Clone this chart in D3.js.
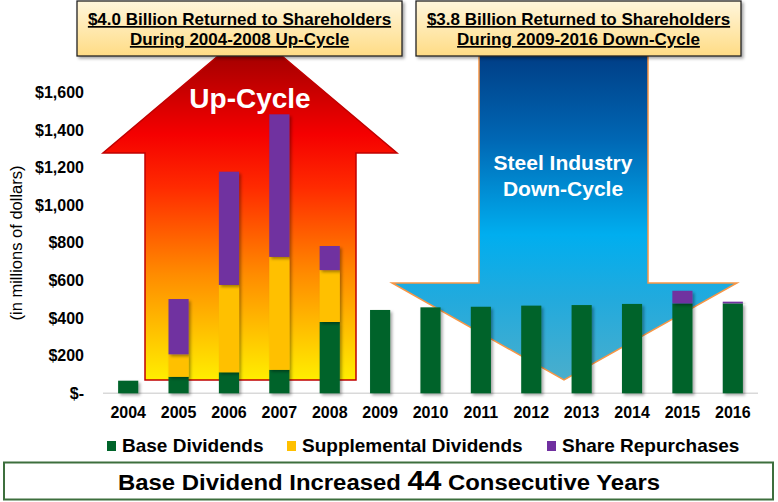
<!DOCTYPE html>
<html>
<head>
<meta charset="utf-8">
<script src="https://cdn.jsdelivr.net/npm/d3@7"></script>
<style>
  body { margin: 0; background: #fff; }
  text { font-family: "Liberation Sans", Arial, sans-serif; }
</style>
</head>
<body>
<div id="chart"></div>
<script>
// Data (in millions of dollars)
var years = ["2004", "2005", "2006", "2007", "2008", "2009", "2010", "2011", "2012", "2013", "2014", "2015", "2016"];
var baseDividends = [67, 88, 112, 125, 379, 443, 457, 460, 466, 469, 475, 478, 478];
var supplementalDividends = [0, 119, 464, 600, 276, 0, 0, 0, 0, 0, 0, 0, 0];
var shareRepurchases = [0, 294, 602, 758, 128, 0, 0, 0, 0, 0, 0, 67, 9];
var seriesNames = ["Base Dividends", "Supplemental Dividends", "Share Repurchases"];
var seriesColors = ["#00642a", "#ffc000", "#7030a0"];
var yTicks = [0, 200, 400, 600, 800, 1000, 1200, 1400, 1600];
var headerLeft = ["$4.0 Billion Returned to Shareholders", "During 2004-2008 Up-Cycle"];
var headerRight = ["$3.8 Billion Returned to Shareholders", "During 2009-2016 Down-Cycle"];

var width = 778, height = 502;

var svg = d3.select("#chart")
    .append("svg")
    .attr("width", width)
    .attr("height", height);

var defs = svg.append("defs");

// gradients
var redGrad = defs.append("linearGradient")
    .attr("id", "redGrad").attr("gradientUnits", "userSpaceOnUse")
    .attr("x1", 0).attr("y1", 29).attr("x2", 0).attr("y2", 380);
[[0, "#8b0000"], [0.3, "#f50000"], [0.45, "#ff2a00"], [0.7, "#ff8c00"], [0.87, "#ffc400"], [1, "#ffee00"]]
    .forEach(function (s) { redGrad.append("stop").attr("offset", s[0]).attr("stop-color", s[1]); });

var blueGrad = defs.append("linearGradient")
    .attr("id", "blueGrad").attr("gradientUnits", "userSpaceOnUse")
    .attr("x1", 0).attr("y1", 57).attr("x2", 0).attr("y2", 380);
[[0, "#003f87"], [0.25, "#0066b3"], [0.55, "#00aeef"], [0.75, "#22aadd"], [1, "#4aaecc"]]
    .forEach(function (s) { blueGrad.append("stop").attr("offset", s[0]).attr("stop-color", s[1]); });

var boxGrad = defs.append("linearGradient")
    .attr("id", "boxGrad").attr("x1", 0).attr("y1", 0).attr("x2", 0).attr("y2", 1);
boxGrad.append("stop").attr("offset", 0).attr("stop-color", "#fff6dc");
boxGrad.append("stop").attr("offset", 1).attr("stop-color", "#ffdc85");

var shadow = defs.append("filter").attr("id", "shadow")
    .attr("x", "-20%").attr("y", "-20%").attr("width", "150%").attr("height", "150%");
shadow.append("feDropShadow").attr("dx", 2).attr("dy", 2).attr("stdDeviation", 1.5)
    .attr("flood-color", "#000").attr("flood-opacity", 0.35);

// scales
var x = d3.scaleBand()
    .domain(years)
    .range([103, 758])
    .paddingInner(0.6)
    .paddingOuter(0.3);

var y = d3.scaleLinear()
    .domain([0, 1600])
    .range([393.3, 92.3]);

// Up-cycle arrow
var upArrow = [[145, 380], [145, 153], [103, 153], [250, 29], [397, 153], [356, 153], [356, 380]];
svg.append("path")
    .attr("d", d3.line()(upArrow) + "Z")
    .attr("fill", "url(#redGrad)")
    .attr("stroke", "#c00000")
    .attr("stroke-width", 1.5);

svg.append("text")
    .attr("x", 250).attr("y", 108)
    .attr("text-anchor", "middle")
    .attr("fill", "#fff")
    .style("font-size", "28px").style("font-weight", "bold")
    .text("Up-Cycle");

// Down-cycle arrow
var downArrow = [[479, 50], [479, 283], [392, 283], [564, 380], [737, 283], [648, 283], [648, 50]];
svg.append("path")
    .attr("d", d3.line()(downArrow) + "Z")
    .attr("fill", "url(#blueGrad)")
    .attr("stroke", "#f79646")
    .attr("stroke-width", 1.5);

svg.append("text")
    .attr("x", 563).attr("text-anchor", "middle")
    .attr("fill", "#fff")
    .style("font-size", "21px").style("font-weight", "bold")
    .selectAll("tspan")
    .data(["Steel Industry", "Down-Cycle"])
    .enter().append("tspan")
    .attr("x", 563)
    .attr("y", function (d, i) { return 170 + i * 26; })
    .text(function (d) { return d; });

// baseline
svg.append("line")
    .attr("x1", 103).attr("x2", 758)
    .attr("y1", y(0)).attr("y2", y(0))
    .attr("stroke", "#d9d9d9").attr("stroke-width", 1.5);

// Y axis labels
var yAxis = svg.append("g")
    .attr("transform", "translate(84,0)")
    .call(d3.axisLeft(y).tickValues(yTicks).tickSize(0).tickPadding(0)
        .tickFormat(function (d) { return d === 0 ? "$-" : "$" + d3.format(",")(d); }));
yAxis.select(".domain").remove();
yAxis.selectAll("text")
    .attr("fill", "#000")
    .style("font-family", "'Liberation Sans', Arial, sans-serif")
    .style("font-size", "16px").style("font-weight", "bold");

svg.append("text")
    .attr("transform", "rotate(-90)")
    .attr("x", -243).attr("y", 22)
    .attr("text-anchor", "middle")
    .style("font-size", "16.5px")
    .text("(in millions of dollars)");

// X axis labels
var xAxis = svg.append("g")
    .attr("transform", "translate(0," + y(0) + ")")
    .call(d3.axisBottom(x).tickSize(0).tickPadding(13));
xAxis.select(".domain").remove();
xAxis.selectAll("text")
    .attr("fill", "#000")
    .style("font-family", "'Liberation Sans', Arial, sans-serif")
    .style("font-size", "16px").style("font-weight", "bold");

// stacked bars
var table = years.map(function (yr, i) {
    return { year: yr, base: baseDividends[i], supp: supplementalDividends[i], rep: shareRepurchases[i] };
});
var stack = d3.stack().keys(["base", "supp", "rep"]);
var series = stack(table);

var groups = svg.append("g")
    .selectAll("g")
    .data(series)
    .enter().append("g")
    .attr("fill", function (d, i) { return seriesColors[i]; });

groups.selectAll("rect")
    .data(function (d) { return d.filter(function (p) { return p[1] > p[0]; }); })
    .enter().append("rect")
    .attr("x", function (d) { return x(d.data.year); })
    .attr("width", x.bandwidth())
    .attr("y", function (d) { return y(d[1]); })
    .attr("height", function (d) { return y(d[0]) - y(d[1]); })
    .attr("filter", "url(#shadow)");

// header boxes
function header(x0, lines) {
    var g = svg.append("g");
    g.append("rect")
        .attr("x", x0).attr("y", 1)
        .attr("width", 325).attr("height", 55)
        .attr("fill", "url(#boxGrad)")
        .attr("stroke", "#222").attr("stroke-width", 1.3)
        .attr("filter", "url(#shadow)");
    g.selectAll("text")
        .data(lines)
        .enter().append("text")
        .attr("x", x0 + 162.5)
        .attr("y", function (d, i) { return 25 + i * 20; })
        .attr("text-anchor", "middle")
        .style("font-size", "17px").style("font-weight", "bold")
        .style("text-decoration", "underline")
        .text(function (d) { return d; });
}
header(77, headerLeft);
header(416, headerRight);

// legend
var legendX = [107, 287, 547];
var legend = svg.append("g")
    .selectAll("g")
    .data(seriesNames)
    .enter().append("g")
    .attr("transform", function (d, i) { return "translate(" + legendX[i] + ",441)"; });
legend.append("rect")
    .attr("width", 9).attr("height", 10)
    .attr("fill", function (d, i) { return seriesColors[i]; });
legend.append("text")
    .attr("x", 15).attr("y", 11)
    .style("font-size", "19px").style("font-weight", "bold")
    .text(function (d) { return d; });

// bottom banner
svg.append("rect")
    .attr("x", 4).attr("y", 462.5)
    .attr("width", 769).attr("height", 37)
    .attr("fill", "#fff")
    .attr("stroke", "#3d6f3d").attr("stroke-width", 2);

var banner = svg.append("text")
    .attr("x", 389).attr("y", 490)
    .attr("text-anchor", "middle")
    .attr("textLength", 542)
    .attr("lengthAdjust", "spacingAndGlyphs")
    .style("font-size", "22px").style("font-weight", "bold");
banner.append("tspan").text("Base Dividend Increased ");
banner.append("tspan").style("font-size", "28px").text("44");
banner.append("tspan").text(" Consecutive Years");
</script>
</body>
</html>
